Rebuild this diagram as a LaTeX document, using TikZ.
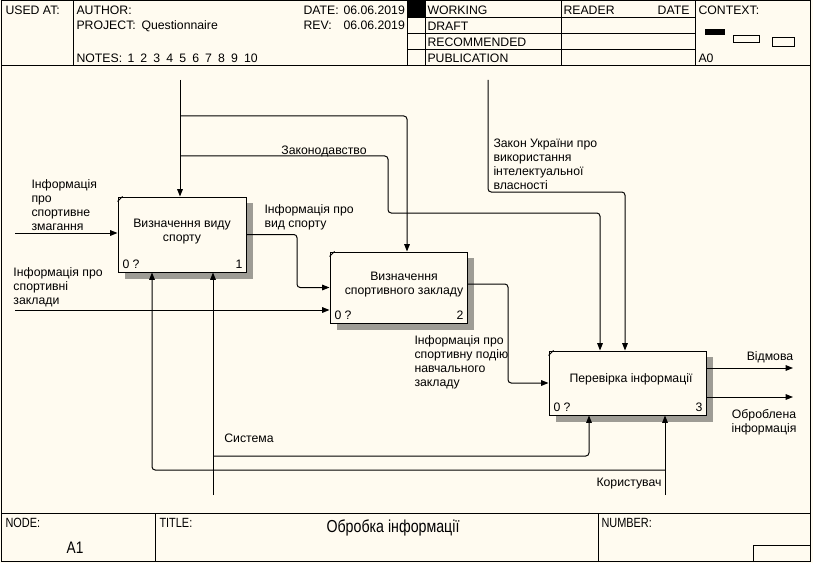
\documentclass[tikz,border=0pt]{standalone}
\usepackage{fontspec}
\setmainfont{Liberation Sans}
\newfontfamily\narrowfont[FakeStretch=0.82]{Liberation Sans}
\usetikzlibrary{arrows.meta,calc}
\definecolor{bgc}{RGB}{255,251,240}
\begin{document}
\begin{tikzpicture}[x=0.75pt,y=-0.75pt,line width=0.75pt,
  font=\fontsize{9.2pt}{10.5pt}\selectfont,
  hdr/.style={inner sep=0pt,anchor=west,text height=6.6pt,text depth=1.9pt,yshift=-1.3pt},
  lbl/.style={inner sep=0pt,align=left,anchor=north west,yshift=-1.5pt},
  clbl/.style={inner sep=0pt,align=center,yshift=-1.5pt},
  box/.style={draw,fill=bgc,inner sep=0pt},
  shadowbox/.style={fill=black!38!bgc,draw=none},
  arr/.style={-{Triangle[length=5.5pt,width=4.2pt]},rounded corners=2.4pt},
  foot/.style={inner sep=0pt,anchor=west,font=\narrowfont\fontsize{10pt}{12pt}\selectfont}]
\useasboundingbox[fill=bgc] (0,0) rectangle (813,563);
% ---------- frame ----------
\draw (1,1) rectangle (810,561);
\draw (1,66) -- (810,66);
\draw (73,1) -- (73,66);
\draw (407,1) -- (407,66);
\draw (425,1) -- (425,66);
\draw (561,1) -- (561,66);
\draw (695,1) -- (695,66);
\draw (407,18) -- (695,18);
\draw (407,34) -- (695,34);
\draw (407,50) -- (695,50);
\fill (407,1) rectangle (425,18);
\fill (705,29) rectangle (725,35);
\draw (733,36) rectangle (759,43);
\draw (772,38) rectangle (794,47);
\draw (1,513) -- (810,513);
\draw (155,513) -- (155,561);
\draw (598,513) -- (598,561);
\draw (753,545) rectangle (810,561);
% ---------- header text ----------
\node[hdr] (usedat) at (5,10) {USED AT:};
\node[hdr] (author) at (76,10) {AUTHOR:};
\node[hdr] (project) at (76,25) {PROJECT:};
\node[hdr] (projname) at (141,25) {Questionnaire};
\node[hdr] (date) at (303,10) {DATE:};
\node[hdr] (dateval) at (343,10) {06.06.2019};
\node[hdr] (rev) at (303,25) {REV:};
\node[hdr] (revval) at (343,25) {06.06.2019};
\node[hdr] (notes) at (76,58) {NOTES:};
\node[hdr] (notesnum) at (127,58) {{\spaceskip=4.6pt 1 2 3 4 5 6 7 8 9 10}};
\node[hdr] (working) at (427,10) {WORKING};
\node[hdr] (draft) at (427,26) {DRAFT};
\node[hdr] (recom) at (427,42) {RECOMMENDED};
\node[hdr] (publ) at (427,58) {PUBLICATION};
\node[hdr] (reader) at (563,10) {READER};
\node[hdr,anchor=east] (rdate) at (690,10) {DATE};
\node[hdr] (context) at (698,10) {CONTEXT:};
\node[hdr] (azero) at (698,58) {A0};
% ---------- footer text ----------
\node[foot] (nodelbl) at (5,523) {NODE:};
\node[foot,anchor=center,font=\narrowfont\fontsize{12.5pt}{14pt}\selectfont] (nodeval) at (75,548) {A1};
\node[foot] (titlelbl) at (159,523) {TITLE:};
\node[foot,anchor=center,font=\narrowfont\fontsize{13pt}{15pt}\selectfont] (titleval) at (393,528) {Обробка інформації};
\node[foot] (numlbl) at (601,523) {NUMBER:};
% ---------- boxes ----------
\fill[shadowbox] (125,203) rectangle (253,279);
\fill[shadowbox] (337,258) rectangle (474,330);
\fill[shadowbox] (556,357) rectangle (713,422);
\node[box,minimum width=96pt,minimum height=56.25pt] (b1) at (182,234.5) {};
\node[box,minimum width=102.75pt,minimum height=53.25pt] (b2) at (398.5,287.5) {};
\node[box,minimum width=117.75pt,minimum height=48pt] (b3) at (627.5,383) {};
\draw ($(b1.north west)+(0,5)$) -- ($(b1.north west)+(5,0)$);
\draw ($(b2.north west)+(0,5)$) -- ($(b2.north west)+(5,0)$);
\draw ($(b3.north west)+(0,5)$) -- ($(b3.north west)+(5,0)$);
\node[clbl] (b1t) at (182,230) {Визначення виду\\спорту};
\node[clbl] (b2t) at (404,283) {Визначення\\спортивного закладу};
\node[clbl] (b3t) at (631,377) {Перевірка інформації};
\node[hdr] (b1n) at (122,264) {0 ?};
\node[hdr,anchor=east] (b1k) at (243,264) {1};
\node[hdr] (b2n) at (334,315) {0 ?};
\node[hdr,anchor=east] (b2k) at (464,315) {2};
\node[hdr] (b3n) at (553,407) {0 ?};
\node[hdr,anchor=east] (b3k) at (703,407) {3};
% ---------- coordinates ----------
\coordinate (ctop) at (180,80);
\coordinate (cj1) at (180,116);
\coordinate (cj2) at (180,156);
\coordinate (kx407) at (407,0);
\coordinate (kbend) at (388,213);
\coordinate (kx600) at (600,0);
\coordinate (lawtop) at (488,80);
\coordinate (lawbend) at (625,192);
\coordinate (in1) at (15,233);
\coordinate (in2) at (15,310);
\coordinate (kx297) at (297,0);
\coordinate (o2) at (467,284);
\coordinate (kx508) at (508,0);
\coordinate (r1) at (793,368);
\coordinate (r2) at (793,397);
\coordinate (m1) at (213,495);
\coordinate (mj1) at (213,456);
\coordinate (kx589) at (589,0);
\coordinate (m2) at (665,495);
\coordinate (mj2) at (665,470);
\coordinate (kx152) at (152,0);
% ---------- connectors ----------
\draw[arr] (ctop) -- (ctop |- b1.north);
\draw[arr] (cj1) -| (b2.north -| kx407);
\draw[arr] (cj2) -| (kbend) -| (b3.north -| kx600);
\draw[arr] (lawtop) |- (lawbend) -- (lawbend |- b3.north);
\draw[arr] (in1) -- (in1 -| b1.west);
\draw[arr] (in2) -- (in2 -| b2.west);
\draw[arr] (b1.east) -| (b2.west -| kx297) -- (b2.west);
\draw[arr] (o2) -| (b3.west -| kx508) -- (b3.west);
\draw[arr] (r1 -| b3.east) -- (r1);
\draw[arr] (r2 -| b3.east) -- (r2);
\draw[arr] (m1) -- (m1 |- b1.south);
\draw[arr] (mj1) -| (b3.south -| kx589);
\draw[arr] (m2) -- (m2 |- b3.south);
\draw[arr] (mj2) -| (b1.south -| kx152);
% ---------- labels ----------
\node[clbl] (lzak) at (324,149) {Законодавство};
\node[lbl] (llaw) at (493,136) {Закон України про\\використання\\інтелектуальної\\власності};
\node[lbl] (lin1) at (31,177) {Інформація\\про\\спортивне\\змагання};
\node[lbl] (lin2) at (13,265) {Інформація про\\спортивні\\заклади};
\node[lbl] (lo1) at (264,202) {Інформація про\\вид спорту};
\node[lbl] (lo2) at (414,333) {Інформація про\\спортивну подію\\навчального\\закладу};
\node[clbl] (lvid) at (770,355) {Відмова};
\node[clbl] (lobr) at (764,420) {Оброблена\\інформація};
\node[clbl] (lsys) at (249,436) {Система};
\node[clbl] (lkor) at (629,482) {Користувач};
\end{tikzpicture}
\end{document}
